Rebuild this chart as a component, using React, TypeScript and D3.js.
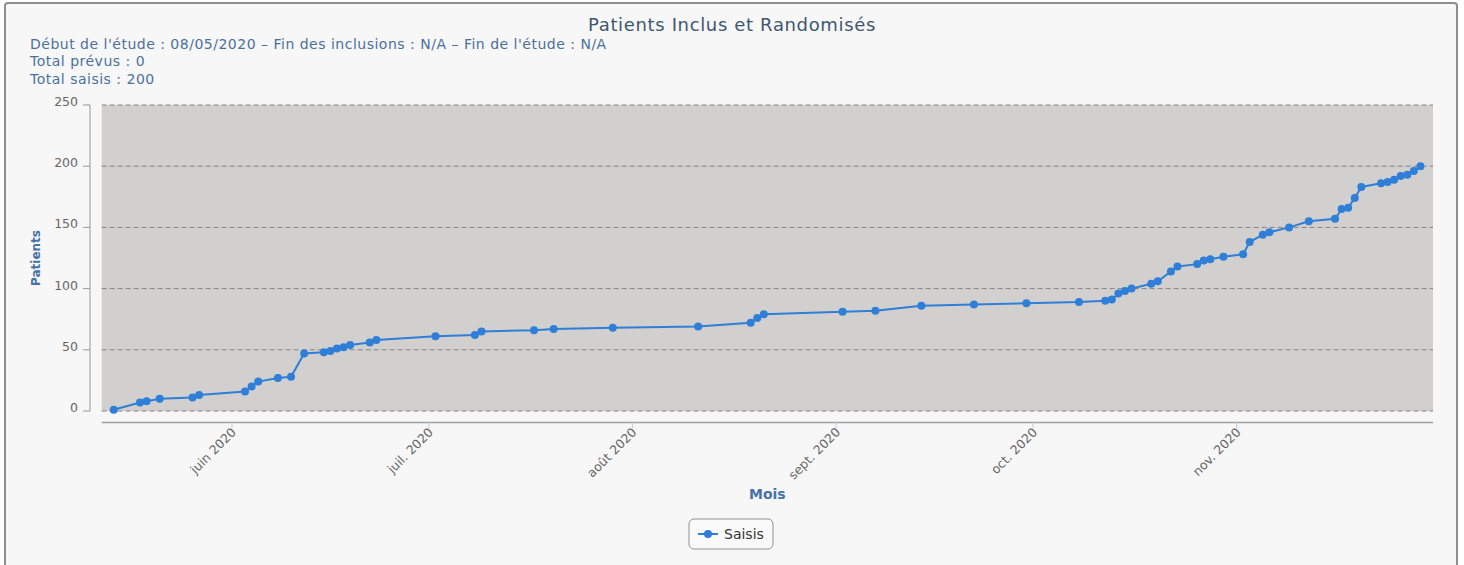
import React from 'react';
import * as d3 from 'd3';

// inclusion dates and cumulative patient counts
const dates = [
  '2020-05-14', '2020-05-18', '2020-05-19', '2020-05-21', '2020-05-26', '2020-05-27',
  '2020-06-03', '2020-06-04', '2020-06-05', '2020-06-08', '2020-06-10', '2020-06-12',
  '2020-06-15', '2020-06-16', '2020-06-17', '2020-06-18', '2020-06-19', '2020-06-22',
  '2020-06-23', '2020-07-02', '2020-07-08', '2020-07-09', '2020-07-17', '2020-07-20',
  '2020-07-29', '2020-08-11', '2020-08-19', '2020-08-20', '2020-08-21', '2020-09-02',
  '2020-09-07', '2020-09-14', '2020-09-22', '2020-09-30', '2020-10-08', '2020-10-12',
  '2020-10-13', '2020-10-14', '2020-10-15', '2020-10-16', '2020-10-19', '2020-10-20',
  '2020-10-22', '2020-10-23', '2020-10-26', '2020-10-27', '2020-10-28', '2020-10-30',
  '2020-11-02', '2020-11-03', '2020-11-05', '2020-11-06', '2020-11-09', '2020-11-12',
  '2020-11-16', '2020-11-17', '2020-11-18', '2020-11-19', '2020-11-20', '2020-11-23',
  '2020-11-24', '2020-11-25', '2020-11-26', '2020-11-27', '2020-11-28', '2020-11-29',
];
const saisis = [
  1, 7, 8, 10, 11, 13,
  16, 20, 24, 27, 28, 47,
  48, 49, 51, 52, 54, 56,
  58, 61, 62, 65, 66, 67,
  68, 69, 72, 76, 79, 81,
  82, 86, 87, 88, 89, 90,
  91, 96, 98, 100, 104, 106,
  114, 118, 120, 123, 124, 126,
  128, 138, 144, 146, 150, 155,
  157, 165, 166, 174, 183, 186,
  187, 189, 192, 193, 196, 200,
];
const yTicks = [0, 50, 100, 150, 200, 250];
const monthLabels = ['juin 2020', 'juil. 2020', 'août 2020', 'sept. 2020', 'oct. 2020', 'nov. 2020'];

const subtitleLines = [
  "Début de l'étude : 08/05/2020 – Fin des inclusions : N/A – Fin de l'étude : N/A",
  'Total prévus : 0',
  'Total saisis : 200',
];

const W = 1464;
const H = 565;
const plot = { left: 101.7, right: 1433, top: 105, bottom: 411 };
const axisY = 422.5;
const font = '"DejaVu Sans", sans-serif';
const blue = '#2f7ed8';

const parse = d3.timeParse('%Y-%m-%d');

const App = () => {
  const points = dates.map((d, i) => ({ date: parse(d) as Date, value: saisis[i] }));

  const x = d3.scaleTime()
    .domain([new Date(2020, 4, 12, 4), new Date(2020, 10, 30, 22)])
    .range([plot.left, plot.right]);
  const y = d3.scaleLinear()
    .domain([0, 250])
    .range([plot.bottom, plot.top]);

  const monthTicks = d3.timeMonth.range(new Date(2020, 5, 1), new Date(2020, 11, 1));

  const line = d3.line<{ date: Date; value: number }>()
    .x(d => x(d.date))
    .y(d => y(d.value));

  return (
    <svg width={W} height={H} style={{ position: 'absolute', left: 0, top: 0, fontFamily: font }}>
      <rect x={0} y={0} width={W} height={H} fill="#ffffff" />
      <rect x={5} y={3} width={1452} height={640} rx={3} fill="#f8f7f8" stroke="#8e8e8e" strokeWidth={2} />

      {/* title + subtitle */}
      <text x={732} y={31} textAnchor="middle" fontSize={18} letterSpacing={0.65} fill="#3e576f">Patients Inclus et Randomisés</text>
      {subtitleLines.map((t, i) => (
        <text key={i} x={30} y={48.5 + i * 17.5} fontSize={14} letterSpacing={0.5} fill="#4a719c">{t}</text>
      ))}

      {/* plot background + grid */}
      <rect x={plot.left} y={plot.top} width={plot.right - plot.left} height={plot.bottom - plot.top} fill="#d1d0ce" />
      {yTicks.map(t => (
        <g key={t}>
          <line x1={plot.left} x2={plot.right} y1={y(t)} y2={y(t)} stroke="#858585" strokeDasharray="5,3" />
          <line x1={83} x2={90} y1={y(t)} y2={y(t)} stroke="#999" />
          <text x={78} y={y(t) + 1} textAnchor="end" fontSize={12.5} fill="#666">{t}</text>
        </g>
      ))}
      <line x1={90} x2={90} y1={plot.top} y2={plot.bottom} stroke="#999" />
      <text transform={`translate(40,258) rotate(-90)`} textAnchor="middle" fontSize={12} fontWeight="bold" fill="#4572a7">Patients</text>

      {/* x axis */}
      <line x1={plot.left} x2={plot.right} y1={axisY} y2={axisY} stroke="#a0a0a0" strokeWidth={1.5} />
      {monthTicks.map((m, i) => (
        <g key={i}>
          <line x1={x(m)} x2={x(m)} y1={axisY} y2={axisY + 6} stroke="#c0d0e0" />
          <text transform={`translate(${x(m) + 5},433) rotate(-45)`} textAnchor="end" fontSize={12.5} fill="#666">{monthLabels[i]}</text>
        </g>
      ))}
      <text x={(plot.left + plot.right) / 2} y={499} textAnchor="middle" fontSize={14} fontWeight="bold" fill="#4572a7">Mois</text>

      {/* series */}
      <path d={line(points) || ''} fill="none" stroke={blue} strokeWidth={2} />
      {points.map((p, i) => (
        <circle key={i} cx={x(p.date)} cy={y(p.value)} r={4} fill={blue} />
      ))}

      {/* legend */}
      <rect x={689} y={519} width={84} height={30} rx={5} fill="#fafafa" stroke="#909090" />
      <line x1={698} x2={718} y1={534} y2={534} stroke={blue} strokeWidth={2} />
      <circle cx={708} cy={534} r={4} fill={blue} />
      <text x={724} y={539} fontSize={14} fill="#333">Saisis</text>
    </svg>
  );
};

export default App;
